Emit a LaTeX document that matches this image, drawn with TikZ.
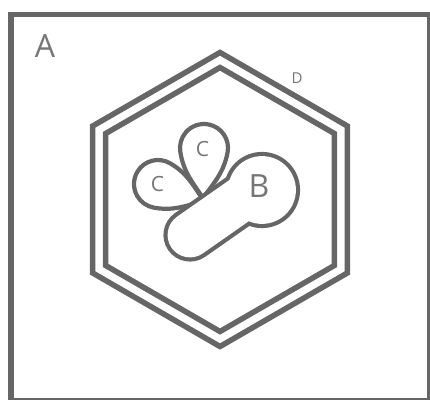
\documentclass[tikz,border=0pt]{standalone}
\usepackage{fontspec}
\setmainfont{Open Sans}
\usetikzlibrary{calc}
\definecolor{ln}{RGB}{102,102,102}
\definecolor{tx}{RGB}{118,118,118}
\begin{document}
\begin{tikzpicture}[x=1pt,y=1pt,
  frame/.style={draw=ln, line width=5.5pt},
  hexline/.style={draw=ln, line width=5.5pt, line join=miter},
  blob/.style={draw=ln, fill=white, line width=4.2pt},
  lbl/.style={text=tx, inner sep=0pt, outer sep=0pt}]
\useasboundingbox (0,0) rectangle (430,399);
\clip (0,0) rectangle (430,399);
\draw[frame] (11,384.5) rectangle (430,-2.2);
% hexagons
\draw[hexline,shift={(220,199.5)}] (90:147) -- (150:147) -- (210:147) -- (270:147) -- (330:147) -- (30:147) -- cycle;
\draw[hexline,shift={(220,199.5)}] (90:132) -- (150:132) -- (210:132) -- (270:132) -- (330:132) -- (30:132) -- cycle;
% teardrops
\coordinate (uc) at (204,251); \coordinate (ut) at (203,201);
\draw[blob] (ut) to[out=53.9,in=-101.1] ($(uc)+(-11.1:24)$) arc[start angle=-11.1,end angle=188.9,radius=24] to[out=-81.1,in=123.9] (ut);
\coordinate (lc) at (158,215); \coordinate (lt) at (204,198);
\draw[blob] (lt) to[out=124.7,in=-30.3] ($(lc)+(59.7:24)$) arc[start angle=59.7,end angle=259.7,radius=24] to[out=-10.3,in=194.7] (lt);
% B shape
\coordinate (bc) at (262,209); \coordinate (ba) at (190,164); \coordinate (be) at (250,206);
\fill[ln] (bc) circle[radius=38.1];
\draw[ln, line width=53.2pt, line cap=round] (ba) -- (be);
\fill[white] (bc) circle[radius=33.9];
\draw[white, line width=44.8pt, line cap=round] (ba) -- (be);
% labels
\node[lbl, font=\fontsize{32}{32}\selectfont] (A) at (45,352.5) {A};
\node[lbl, font=\fontsize{32}{32}\selectfont] (B) at (259,212.5) {B};
\node[lbl, font=\fontsize{21}{21}\selectfont] (C1) at (202.5,249.5) {C};
\node[lbl, font=\fontsize{21}{21}\selectfont] (C2) at (157.5,215.5) {C};
\node[lbl, font=\fontsize{15}{15}\selectfont] (D) at (297,320.5) {D};
\end{tikzpicture}
\end{document}
